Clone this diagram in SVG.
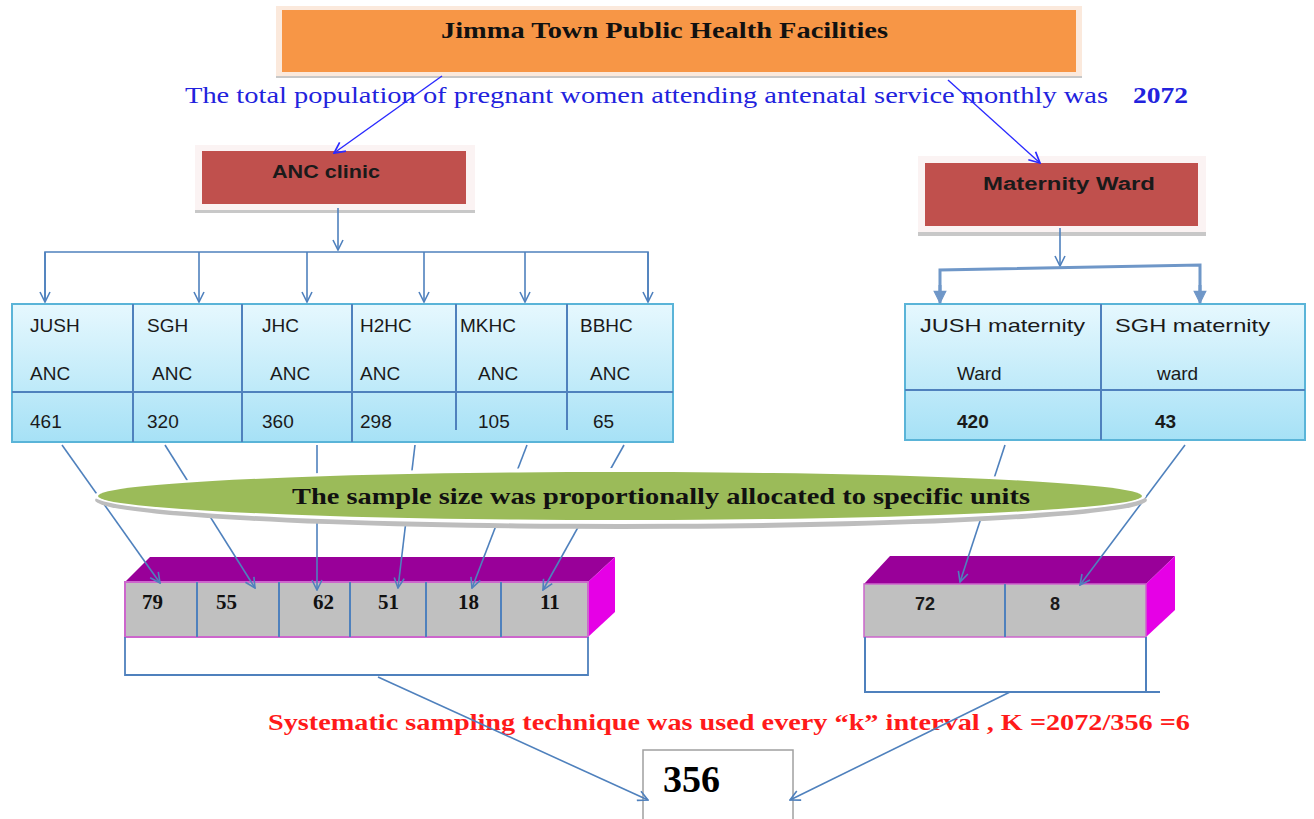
<svg xmlns="http://www.w3.org/2000/svg" width="1314" height="819" viewBox="0 0 1314 819">
<defs>
<style>
.conn{stroke:#4f81bd;stroke-width:1.6;fill:none}
.blue{stroke:#2a2aff;stroke-width:1.4;fill:none}
.cal{font-family:"Liberation Sans","Open Sans",sans-serif;font-size:19px;fill:#1a1a1a}
.calb{font-family:"Liberation Sans","Open Sans",sans-serif;font-size:18px;font-weight:bold;fill:#1a1a1a}
.tb{font-family:"Liberation Serif","Times New Roman",serif;font-weight:bold}
.num{font-family:"Liberation Serif",serif;font-weight:bold;font-size:21px;fill:#111}
.cell{stroke:#4f81bd;stroke-width:2}
</style>
<linearGradient id="tbl" x1="0" y1="0" x2="0" y2="1">
<stop offset="0" stop-color="#e6f8fe"/>
<stop offset="1" stop-color="#a6e1f6"/>
</linearGradient>
<marker id="av" viewBox="0 0 12 12" refX="11" refY="6" markerWidth="12" markerHeight="12" markerUnits="userSpaceOnUse" orient="auto">
<path d="M1,1 L11,6 L1,11" fill="none" stroke="#4f81bd" stroke-width="1.6"/>
</marker>
<marker id="ab" viewBox="0 0 12 12" refX="11" refY="6" markerWidth="13" markerHeight="13" markerUnits="userSpaceOnUse" orient="auto">
<path d="M1,1 L11,6 L1,11" fill="none" stroke="#2a2aff" stroke-width="1.6"/>
</marker>
<marker id="af" viewBox="0 0 12 12" refX="11" refY="6" markerWidth="14" markerHeight="14" markerUnits="userSpaceOnUse" orient="auto">
<path d="M1,1 L11,6 L1,11 Z" fill="#6f97c8" stroke="#6f97c8" stroke-width="1"/>
</marker>
</defs>
<rect width="1314" height="819" fill="#ffffff"/>

<g id="title">
<rect x="276" y="8" width="806" height="70" fill="#c8c8c8"/>
<rect x="276" y="6" width="806" height="70" fill="#fbe9dc"/>
<rect x="282" y="10" width="794" height="62" fill="#f79646"/>
<text class="tb" x="441" y="38" font-size="23" textLength="447" lengthAdjust="spacingAndGlyphs" fill="#111">Jimma Town Public Health Facilities</text>
</g>

<g id="population">
<text class="tb" x="185" y="103" font-size="24" fill="#2222dd" textLength="923" lengthAdjust="spacingAndGlyphs" style="font-weight:normal">The total population of pregnant women attending antenatal service monthly  was</text>
<text class="tb" x="1133" y="103" font-size="24" fill="#2222dd" textLength="55" lengthAdjust="spacingAndGlyphs">2072</text>
</g>

<g id="anc-clinic">
<rect x="195" y="147" width="280" height="66" fill="#c8c8c8"/>
<rect x="195" y="145" width="280" height="65" fill="#fbf3f3"/>
<rect x="202" y="151" width="264" height="53" fill="#c0504d"/>
<text class="calb" x="272" y="178" textLength="108" lengthAdjust="spacingAndGlyphs">ANC clinic</text>
</g>

<g id="maternity-ward">
<rect x="918" y="158" width="288" height="78" fill="#c8c8c8"/>
<rect x="918" y="156" width="288" height="76" fill="#fbf3f3"/>
<rect x="925" y="163" width="273" height="63" fill="#c0504d"/>
<text class="calb" x="983" y="190" textLength="172" lengthAdjust="spacingAndGlyphs">Maternity Ward</text>
</g>

<g id="anc-table">
<rect x="12" y="304" width="661" height="138" fill="url(#tbl)" stroke="#5ab4d8" stroke-width="2"/>
<line class="cell" x1="12" y1="392" x2="673" y2="392"/>
<line class="cell" x1="133" y1="304" x2="133" y2="442"/>
<line class="cell" x1="242" y1="304" x2="242" y2="442"/>
<line class="cell" x1="352" y1="304" x2="352" y2="442"/>
<line class="cell" x1="456" y1="304" x2="456" y2="430"/>
<line class="cell" x1="567" y1="304" x2="567" y2="430" stroke-width="3"/>
<text class="cal" x="30" y="332">JUSH</text><text class="cal" x="30" y="380">ANC</text><text class="cal" x="30" y="428">461</text>
<text class="cal" x="147" y="332">SGH</text><text class="cal" x="152" y="380">ANC</text><text class="cal" x="147" y="428">320</text>
<text class="cal" x="262" y="332">JHC</text><text class="cal" x="270" y="380">ANC</text><text class="cal" x="262" y="428">360</text>
<text class="cal" x="360" y="332">H2HC</text><text class="cal" x="360" y="380">ANC</text><text class="cal" x="360" y="428">298</text>
<text class="cal" x="460" y="332">MKHC</text><text class="cal" x="478" y="380">ANC</text><text class="cal" x="478" y="428">105</text>
<text class="cal" x="580" y="332">BBHC</text><text class="cal" x="590" y="380">ANC</text><text class="cal" x="593" y="428">65</text>
</g>

<g id="maternity-table">
<rect x="905" y="304" width="400" height="136" fill="url(#tbl)" stroke="#5ab4d8" stroke-width="2"/>
<line class="cell" x1="905" y1="390" x2="1305" y2="390"/>
<line class="cell" x1="1101" y1="304" x2="1101" y2="440" stroke-width="3"/>
<text class="cal" x="920" y="332" textLength="165" lengthAdjust="spacingAndGlyphs">JUSH maternity</text>
<text class="cal" x="957" y="380">Ward</text>
<text class="cal" x="957" y="428" font-weight="bold">420</text>
<text class="cal" x="1115" y="332" textLength="155" lengthAdjust="spacingAndGlyphs">SGH maternity</text>
<text class="cal" x="1157" y="380">ward</text>
<text class="cal" x="1155" y="428" font-weight="bold">43</text>
</g>

<g id="anc-samples">
<polygon points="125,582 150,557 615,557 588,582" fill="#990099"/>
<polygon points="588,582 615,557 615,612 588,637" fill="#e600e6"/>
<rect x="125" y="582" width="463" height="55" fill="#c0c0c0" stroke="#cc66cc" stroke-width="2"/>
<line class="cell" x1="197" y1="582" x2="197" y2="637"/>
<line class="cell" x1="279" y1="582" x2="279" y2="637" stroke-width="1.5"/>
<line class="cell" x1="350" y1="582" x2="350" y2="637"/>
<line class="cell" x1="426" y1="582" x2="426" y2="637"/>
<line class="cell" x1="501" y1="582" x2="501" y2="637"/>
<text class="num" x="142" y="609">79</text>
<text class="num" x="216" y="609">55</text>
<text class="num" x="313" y="609">62</text>
<text class="num" x="378" y="609">51</text>
<text class="num" x="458" y="609">18</text>
<text class="num" x="540" y="609">11</text>
<path d="M125,637 V675 H588 V637" fill="none" stroke="#4f81bd" stroke-width="1.8"/>
</g>

<g id="maternity-samples">
<polygon points="864,584 890,556 1175,556 1146,584" fill="#990099"/>
<polygon points="1146,584 1175,556 1175,610 1146,637" fill="#e600e6"/>
<rect x="864" y="584" width="282" height="53" fill="#c0c0c0" stroke="#cc66cc" stroke-width="1.5"/>
<line class="cell" x1="1005" y1="584" x2="1005" y2="637" stroke-width="1.4"/>
<text class="calb" x="915" y="610" font-size="19">72</text>
<text class="calb" x="1050" y="610" font-size="19">8</text>
<path d="M865,637 V692 H1160 M1146,692 V637" fill="none" stroke="#4f81bd" stroke-width="2"/>
</g>

<g id="systematic">
<text class="tb" x="268" y="730" font-size="23" fill="#ff1a1a" textLength="922" lengthAdjust="spacingAndGlyphs">Systematic sampling technique was used every “k” interval , K =2072/356 =6</text>
</g>

<g id="total">
<rect x="643" y="750" width="150" height="80" fill="#ffffff" stroke="#a0a0a0" stroke-width="1.5"/>
<text class="tb" x="663" y="792" font-size="38" fill="#000">356</text>
</g>

<g id="connectors">
<line class="blue" x1="442" y1="76" x2="334" y2="153" marker-end="url(#ab)"/>
<line class="blue" x1="948" y1="80" x2="1040" y2="163" marker-end="url(#ab)"/>
<line class="conn" x1="338" y1="208" x2="338" y2="250" marker-end="url(#av)"/>
<path class="conn" d="M45,302 V252 H648 V302" stroke-width="2.4"/>
<line class="conn" x1="45" y1="252" x2="45" y2="302" marker-end="url(#av)"/>
<line class="conn" x1="199" y1="252" x2="199" y2="302" marker-end="url(#av)"/>
<line class="conn" x1="307" y1="252" x2="307" y2="302" marker-end="url(#av)"/>
<line class="conn" x1="424" y1="252" x2="424" y2="302" marker-end="url(#av)"/>
<line class="conn" x1="525" y1="252" x2="525" y2="302" marker-end="url(#av)"/>
<line class="conn" x1="648" y1="252" x2="648" y2="302" marker-end="url(#av)"/>
<line class="conn" x1="1060" y1="228" x2="1060" y2="266" marker-end="url(#av)" stroke-width="2"/>
<path d="M940,300 V270 L1200,265 V300" fill="none" stroke="#6f97c8" stroke-width="3"/>
<line x1="940" y1="285" x2="940" y2="303" stroke="#6f97c8" stroke-width="3" marker-end="url(#af)"/>
<line x1="1200" y1="285" x2="1200" y2="303" stroke="#6f97c8" stroke-width="3" marker-end="url(#af)"/>
<line class="conn" x1="62" y1="445" x2="160" y2="583" marker-end="url(#av)"/>
<line class="conn" x1="165" y1="445" x2="255" y2="588" marker-end="url(#av)"/>
<line class="conn" x1="317" y1="445" x2="317" y2="590" marker-end="url(#av)"/>
<line class="conn" x1="415" y1="445" x2="398" y2="588" marker-end="url(#av)"/>
<line class="conn" x1="527" y1="445" x2="472" y2="588" marker-end="url(#av)"/>
<line class="conn" x1="624" y1="445" x2="543" y2="590" marker-end="url(#av)"/>
<line class="conn" x1="1005" y1="445" x2="960" y2="582" marker-end="url(#av)"/>
<line class="conn" x1="1185" y1="445" x2="1080" y2="585" marker-end="url(#av)"/>
<line class="conn" x1="378" y1="677" x2="648" y2="800" marker-end="url(#av)"/>
<line class="conn" x1="1010" y1="692" x2="790" y2="800" marker-end="url(#av)"/>
</g>

<g id="allocation">
<ellipse cx="621" cy="500" rx="526" ry="29" fill="#bdbdbd"/>
<ellipse cx="620" cy="496" rx="526" ry="28" fill="#ffffff"/>
<ellipse cx="620" cy="496" rx="522" ry="24" fill="#9bbb59"/>
<text class="tb" x="292" y="504" font-size="24" fill="#111" textLength="738" lengthAdjust="spacingAndGlyphs">The sample size was proportionally allocated to specific units</text>
</g>
</svg>
